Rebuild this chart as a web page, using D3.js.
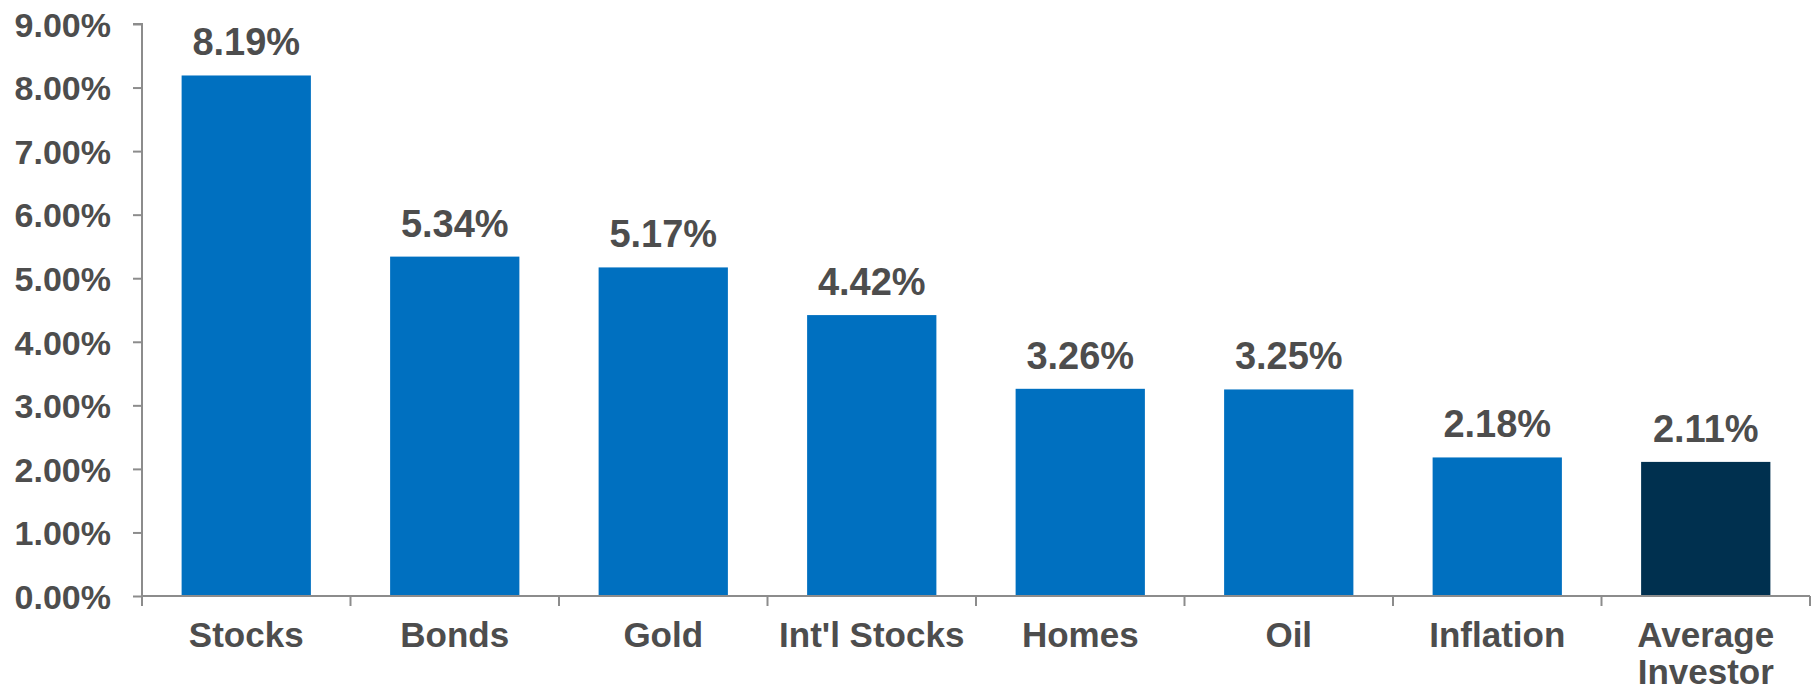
<!DOCTYPE html>
<html>
<head>
<meta charset="utf-8">
<script src="https://cdn.jsdelivr.net/npm/d3@7"></script>
<style>
  html, body { margin: 0; padding: 0; background: #fff; }
  svg { display: block; }
</style>
</head>
<body>
<svg id="chart" width="1814" height="691"></svg>
<script>
const categories = ["Stocks", "Bonds", "Gold", "Int'l Stocks", "Homes", "Oil", "Inflation", "Average Investor"];
const values = [8.19, 5.34, 5.17, 4.42, 3.26, 3.25, 2.18, 2.11];
const yTicks = [0, 1, 2, 3, 4, 5, 6, 7, 8, 9];
const highlight = ["Average Investor"];

const svg = d3.select("#chart");
const textColor = "#4d4d4d";
const axisColor = "#8c8c8c";
const font = "'Liberation Sans', Arial, sans-serif";

const x = d3.scaleBand().domain(categories).range([142, 1810]).paddingInner(0.38).paddingOuter(0.19);
const y = d3.scaleLinear().domain([0, 9]).range([596, 24]);

// bars
svg.append("g").selectAll("rect").data(categories).join("rect")
  .attr("x", d => x(d))
  .attr("width", x.bandwidth())
  .attr("y", (d, i) => y(values[i]))
  .attr("height", (d, i) => y(0) - y(values[i]))
  .attr("fill", d => highlight.includes(d) ? "#00304f" : "#0070c0");

// value labels
svg.append("g").selectAll("text").data(categories).join("text")
  .attr("x", d => x(d) + x.bandwidth() / 2)
  .attr("y", (d, i) => y(values[i]) - 20)
  .attr("text-anchor", "middle")
  .attr("font-family", font)
  .attr("font-weight", "bold")
  .attr("font-size", 38)
  .attr("fill", textColor)
  .text((d, i) => values[i].toFixed(2) + "%");

// y axis
const yAxis = svg.append("g").attr("transform", "translate(142,0)")
  .call(d3.axisLeft(y).tickValues(yTicks).tickSize(9).tickPadding(22)
    .tickFormat(d => d.toFixed(2) + "%"));
yAxis.select(".domain").attr("stroke", axisColor).attr("stroke-width", 2)
  .attr("d", `M-9,${y(9)}H0V${y(0) + 10}`);
yAxis.selectAll(".tick line").attr("stroke", axisColor).attr("stroke-width", 2);
yAxis.selectAll(".tick text")
  .attr("font-family", font).attr("font-weight", "bold").attr("font-size", 34)
  .attr("fill", textColor).attr("dy", "0.36em");

// x axis
const xEdges = d3.scaleLinear().domain([0, categories.length]).range([142, 1810]);
const xAxisG = svg.append("g");
xAxisG.append("line")
  .attr("x1", 142).attr("x2", 1810).attr("y1", y(0)).attr("y2", y(0))
  .attr("stroke", axisColor).attr("stroke-width", 2);
xAxisG.selectAll("line.tk").data(d3.range(categories.length + 1)).join("line")
  .attr("class", "tk")
  .attr("x1", d => xEdges(d)).attr("x2", d => xEdges(d))
  .attr("y1", y(0)).attr("y2", y(0) + 10)
  .attr("stroke", axisColor).attr("stroke-width", 2);

// category labels
const cat = svg.append("g").selectAll("text").data(categories).join("text")
  .attr("x", d => x(d) + x.bandwidth() / 2)
  .attr("y", 647)
  .attr("text-anchor", "middle")
  .attr("font-family", font)
  .attr("font-weight", "bold")
  .attr("font-size", 35)
  .attr("fill", textColor);
cat.each(function(d) {
  const t = d3.select(this);
  const parts = d === "Average Investor" ? ["Average", "Investor"] : [d];
  parts.forEach((p, i) => {
    t.append("tspan").attr("x", x(d) + x.bandwidth() / 2).attr("dy", i === 0 ? 0 : 37).text(p);
  });
});
</script>
</body>
</html>
